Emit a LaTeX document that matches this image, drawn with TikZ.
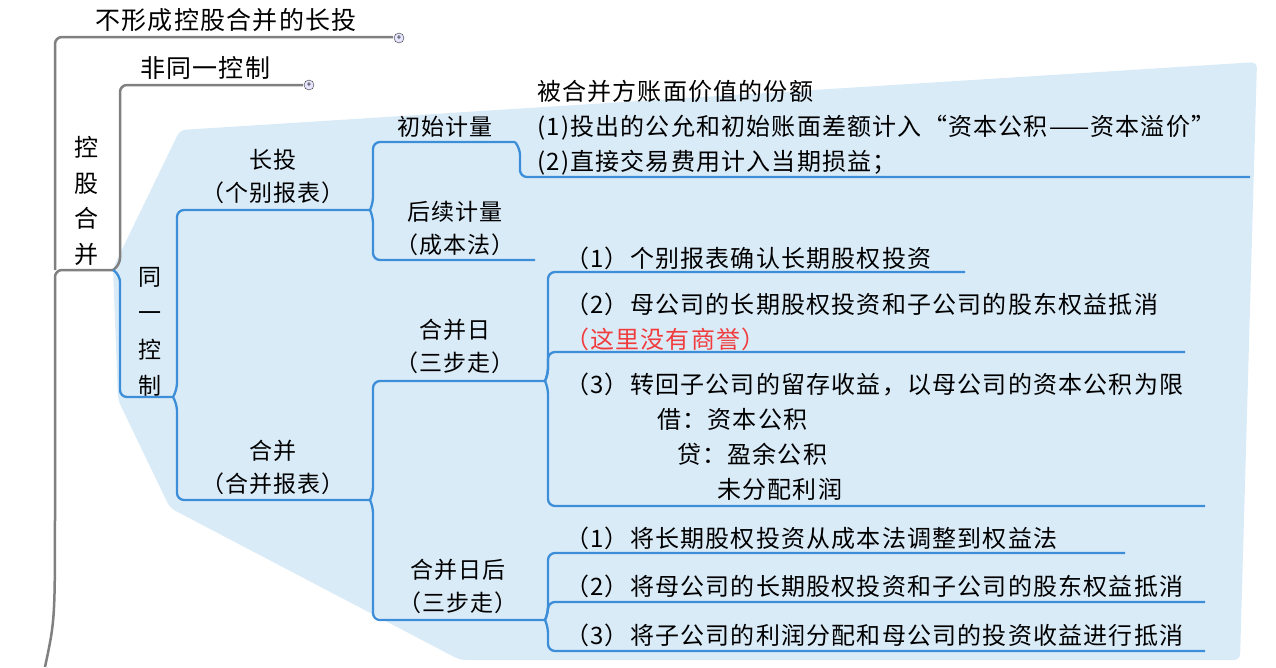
\documentclass[tikz,border=0pt]{standalone}
\usepackage{fontspec}
\setmainfont[LetterSpace=5]{Noto Sans CJK SC}
\begin{document}
\begin{tikzpicture}[x=1pt,y=-1pt,
  gline/.style={draw=gray,line width=2.5pt,rounded corners=7},
  bline/.style={line width=2.3pt,rounded corners=7},
  txt/.style={inner sep=0pt,font=\fontsize{24}{35}\selectfont,anchor=west},
  ctxt/.style={inner sep=0pt,font=\fontsize{23}{33}\selectfont,align=center},
  plus/.style={circle,draw=black!80,fill=blue!10,inner sep=0pt,minimum size=10pt,font=\fontsize{8}{8}\selectfont}]
\useasboundingbox (0,0) rectangle (1276,667);
\definecolor{bfill}{HTML}{DAEBF8}
\definecolor{bl}{HTML}{3D8ED8}
\tikzset{bline/.append style={draw=bl}}
% background region
\fill[bfill,rounded corners=6] (113,268) -- (180,130) -- (1257,62) -- (1240,660) -- (460,660) -- (170,508) -- (118,400) -- cycle;
% coordinates
\coordinate (r) at (55,270);
\coordinate (re) at (113,270);
\coordinate (a1) at (393,37);
\coordinate (a2) at (303,85);
\coordinate (bot) at (45,667);
\coordinate (s) at (173,397);
\coordinate (cz) at (370,210);
\coordinate (hb) at (370,500);
\coordinate (cs) at (515,142);
\coordinate (hx) at (535,260);
\coordinate (cse) at (1250,177);
\coordinate (hd) at (545,381);
\coordinate (hdh) at (545,620);
\coordinate (d1) at (965,272);
\coordinate (d2) at (1185,352);
\coordinate (d3) at (1205,506);
\coordinate (e1) at (1125,553);
\coordinate (e2) at (1205,602);
\coordinate (e3) at (1205,651);
% gray
\draw[gline] (bot) .. controls (55,620) .. (55,500) -- (r) -- (re);
\draw[gline] (r) -- (55,37) -- (a1);
\draw[gline] (re) -- (120,265) -- (120,85) -- (a2);
\node[plus] (p1) at (399,38) {+};
\node[plus] (p2) at (309,85) {+};
\node[ctxt,font=\fontsize{25}{25}\selectfont] (t1) at (226,20) {不形成控股合并的长投};
\node[ctxt,font=\fontsize{25}{25}\selectfont] (t2) at (205,68) {非同一控制};
\node[ctxt,font=\fontsize{24}{35.5}\selectfont] (root) at (86,201) {控\\股\\合\\并};
% blue
\draw[bline] (re) -- (120,275) -- (120,397) -- (s);
\node[ctxt,font=\fontsize{23}{36.5}\selectfont] (tk) at (150,332) {同\\一\\控\\制};
\draw[bline] (s) -- (177,390) -- (177,210) -- (cz);
\draw[bline] (s) -- (177,404) -- (177,500) -- (hb);
\node[ctxt] (n1) at (273,176) {长投\\（个别报表）};
\node[ctxt] (n2) at (273,467) {合并\\（合并报表）};
\draw[bline] (cz) -- (373,204) -- (373,142) -- (cs);
\draw[bline] (cz) -- (373,216) -- (373,260) -- (hx);
\node[ctxt] (c1) at (445,127) {初始计量};
\node[ctxt] (c2) at (455,228) {后续计量\\（成本法）};
\draw[bline] (cs) -- (520,148) -- (520,177) -- (cse);
\node[txt,align=left] (c1t) at (537,128) {被合并方账面价值的份额\\(1)投出的公允和初始账面差额计入“资本公积——资本溢价”\\(2)直接交易费用计入当期损益；};
\draw[bline] (hb) -- (373,494) -- (373,381) -- (hd);
\draw[bline] (hb) -- (373,506) -- (373,620) -- (hdh);
\node[ctxt] (h1) at (455,346) {合并日\\（三步走）};
\node[ctxt] (h2) at (458,586) {合并日后\\（三步走）};
\draw[bline] (hd) -- (548,375) -- (548,272) -- (d1);
\draw[bline] (hd) -- (548,375) -- (548,352) -- (d2);
\draw[bline] (hd) -- (548,387) -- (548,506) -- (d3);
\node[txt] (d1t) at (565,258) {（1）个别报表确认长期股权投资};
\node[txt,align=left] (d2t) at (565,322) {（2）母公司的长期股权投资和子公司的股东权益抵消\\\textcolor[HTML]{F03C3C}{（这里没有商誉）}};
\node[txt,align=left] (d3t) at (565,437) {（3）转回子公司的留存收益，以母公司的资本公积为限\\\hspace{92pt}借：资本公积\\\hspace{112pt}贷：盈余公积\\\hspace{152pt}未分配利润};
\draw[bline] (hdh) -- (548,614) -- (548,553) -- (e1);
\draw[bline] (hdh) -- (548,614) -- (548,602) -- (e2);
\draw[bline] (hdh) -- (548,626) -- (548,651) -- (e3);
\node[txt] (e1t) at (565,538) {（1）将长期股权投资从成本法调整到权益法};
\node[txt] (e2t) at (565,586) {（2）将母公司的长期股权投资和子公司的股东权益抵消};
\node[txt] (e3t) at (565,635) {（3）将子公司的利润分配和母公司的投资收益进行抵消};
\end{tikzpicture}
\end{document}
